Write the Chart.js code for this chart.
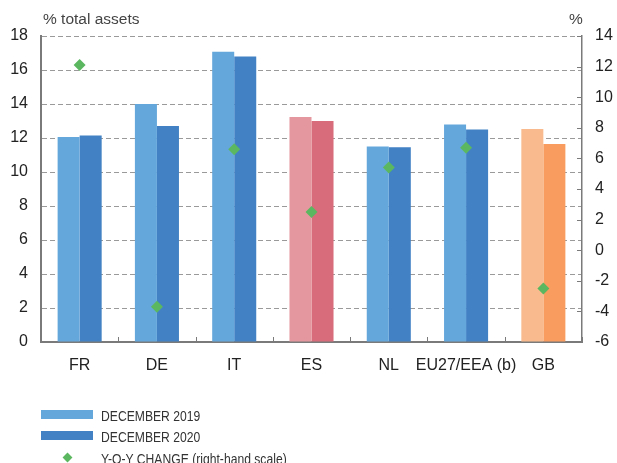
<!DOCTYPE html>
<html>
<head>
<meta charset="utf-8">
<script src="https://cdn.jsdelivr.net/npm/chart.js@4/dist/chart.umd.min.js"></script>
<style>
  html, body { margin: 0; padding: 0; background: #fff; }
  #wrap { position: relative; width: 617px; height: 463px; overflow: hidden; font-family: "Liberation Sans", Arial, sans-serif; color: #333; }
  #chart { position: absolute; left: 0; top: 0; }
  .lbl { position: absolute; font-size: 15.5px; color: #444; white-space: nowrap; line-height: 1; }
  .leg { position: absolute; font-size: 15px; color: #333; white-space: nowrap; line-height: 1; transform: scaleX(0.81); transform-origin: left center; }
  .sw { position: absolute; width: 52px; height: 9px; }
  .dia { position: absolute; width: 7px; height: 7px; background: #5cb860; transform: rotate(45deg); }
</style>
</head>
<body>
<div id="wrap">
  <canvas id="chart" width="617" height="463"></canvas>
  <div class="lbl" style="left:43px; top:11px;">% total assets</div>
  <div class="lbl" style="left:569px; top:11px;">%</div>

  <div class="sw" style="left:41px; top:410px; background:#64a7db;"></div>
  <div class="leg" style="left:101px; top:408px;">DECEMBER 2019</div>
  <div class="sw" style="left:41px; top:431px; background:#4181c4;"></div>
  <div class="leg" style="left:101px; top:429px;">DECEMBER 2020</div>
  <div class="dia" style="left:64px; top:454px;"></div>
  <div class="leg" style="left:101px; top:451px;">Y-O-Y CHANGE (right-hand scale)</div>
</div>
<script>
// Countries and reporting periods
const categories = ['FR', 'DE', 'IT', 'ES', 'NL', 'EU27/EEA (b)', 'GB'];
const dec2019 = [12.06, 14.0, 17.07, 13.24, 11.5, 12.8, 12.53];
const dec2020 = [12.15, 12.7, 16.8, 13.0, 11.45, 12.5, 11.65];
const yoyChange = [12.1, -3.7, 6.6, 2.5, 5.4, 6.7, -2.5];

const leftTicks = [0, 2, 4, 6, 8, 10, 12, 14, 16, 18];
const rightTicks = [-6, -4, -2, 0, 2, 4, 6, 8, 10, 12, 14];

// Bar colours per country (ES and GB highlighted)
const colors2019 = ['#64a7db', '#64a7db', '#64a7db', '#e5979f', '#64a7db', '#64a7db', '#f9bb8e'];
const colors2020 = ['#4181c4', '#4181c4', '#4181c4', '#d86c7a', '#4181c4', '#4181c4', '#f89c5f'];

const FONT = { family: '"Liberation Sans", Arial, sans-serif', size: 16 };
const AXIS = '#7a7a7a';

// Small inward tick marks: right axis at each right-hand value, bottom axis between countries
const tickMarks = {
  id: 'tickMarks',
  afterDraw(chart) {
    const ctx = chart.ctx;
    const y2 = chart.scales.y2;
    const x = chart.scales.x;
    const area = chart.chartArea;
    ctx.save();
    ctx.strokeStyle = AXIS;
    ctx.lineWidth = 1;
    rightTicks.forEach(v => {
      const py = Math.round(y2.getPixelForValue(v)) + 0.5;
      ctx.beginPath();
      ctx.moveTo(area.right, py);
      ctx.lineTo(area.right - 5, py);
      ctx.stroke();
    });
    for (let i = 0; i <= categories.length; i++) {
      const px = Math.round(x.getPixelForValue(i - 0.5)) + 0.5;
      ctx.beginPath();
      ctx.moveTo(px, area.bottom);
      ctx.lineTo(px, area.bottom - 5);
      ctx.stroke();
    }
    ctx.restore();
  }
};

new Chart(document.getElementById('chart'), {
  data: {
    labels: categories,
    datasets: [
      {
        type: 'line',
        label: 'Y-O-Y CHANGE (right-hand scale)',
        data: yoyChange,
        yAxisID: 'y2',
        showLine: false,
        pointStyle: 'rectRot',
        pointRadius: 6,
        pointHoverRadius: 6,
        backgroundColor: '#5cb860',
        borderColor: '#5cb860',
        borderWidth: 0,
        order: 0
      },
      {
        type: 'bar',
        label: 'DECEMBER 2019',
        data: dec2019,
        yAxisID: 'y',
        backgroundColor: colors2019,
        categoryPercentage: 0.57,
        barPercentage: 1.0,
        order: 1
      },
      {
        type: 'bar',
        label: 'DECEMBER 2020',
        data: dec2020,
        yAxisID: 'y',
        backgroundColor: colors2020,
        categoryPercentage: 0.57,
        barPercentage: 1.0,
        order: 1
      }
    ]
  },
  options: {
    responsive: false,
    animation: false,
    layout: { padding: { top: 36, left: 0, right: 0, bottom: 0 } },
    plugins: { legend: { display: false }, tooltip: { enabled: false } },
    scales: {
      x: {
        grid: { display: false, drawTicks: false },
        border: { display: true, color: AXIS, width: 2 },
        ticks: { color: '#222', font: FONT, padding: 14, maxRotation: 0, autoSkip: false },
        afterFit(s) { s.height = 121; }
      },
      y: {
        position: 'left',
        min: 0, max: 18,
        afterBuildTicks(s) { s.ticks = leftTicks.map(v => ({ value: v })); },
        grid: { color: '#9a9a9a', lineWidth: 1, drawTicks: false },
        border: { display: true, color: AXIS, width: 2, dash: [5, 3] },
        ticks: { color: '#222', font: FONT, padding: 13 },
        afterFit(s) { s.width = 41; }
      },
      y2: {
        position: 'right',
        min: -6, max: 14,
        afterBuildTicks(s) { s.ticks = rightTicks.map(v => ({ value: v })); },
        grid: { drawOnChartArea: false, drawTicks: false },
        border: { display: true, color: AXIS, width: 1.5 },
        ticks: { color: '#222', font: FONT, padding: 13 },
        afterFit(s) { s.width = 35; }
      }
    }
  },
  plugins: [tickMarks]
});
</script>
</body>
</html>
